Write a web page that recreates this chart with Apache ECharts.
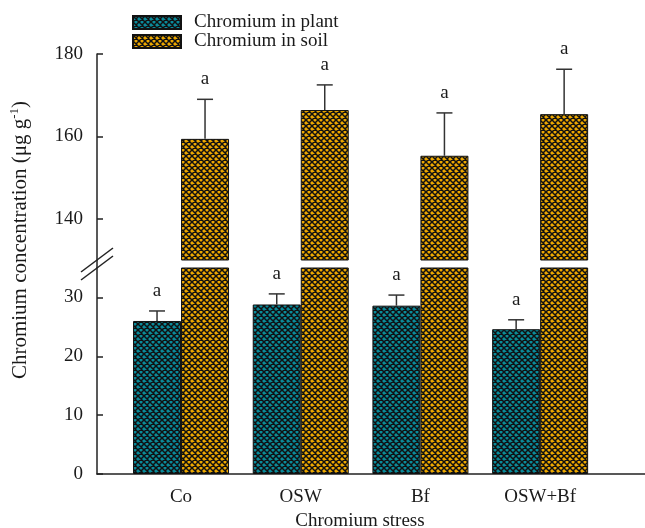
<!DOCTYPE html>
<html><head><meta charset="utf-8">
<script src="https://cdn.jsdelivr.net/npm/echarts@6/dist/echarts.min.js"></script>
<style>html,body{margin:0;padding:0;background:#fff}#c{width:645px;height:528px}</style>
</head><body><div id="c"></div>
<script>
const categories = ['Co', 'OSW', 'Bf', 'OSW+Bf'];
const plantMean = [26.0, 28.8, 28.6, 24.6];
const plantSD = [1.7, 1.8, 1.8, 1.6];
const soilMean = [159.4, 166.4, 155.3, 165.4];
const soilSD = [9.6, 6.1, 10.4, 10.9];
const sigPlant = ['a', 'a', 'a', 'a'];
const sigSoil = ['a', 'a', 'a', 'a'];
const upperTicks = [140, 160, 180];
const lowerTicks = [0, 10, 20, 30];
const seriesNames = ['Chromium in plant', 'Chromium in soil'];

const FONT = '"Times New Roman", "Liberation Serif", serif';
const TXT = '#1a1a1a';
const AX = '#222';
const X_MIN = -0.702, X_MAX = 3.876;
const BAR_W = 48;

function makePattern(base) {
  const s = 6;
  const c = document.createElement('canvas');
  c.width = s; c.height = s;
  const g = c.getContext('2d');
  g.fillStyle = base; g.fillRect(0, 0, s, s);
  g.strokeStyle = '#111'; g.lineWidth = 1.5;
  g.beginPath();
  for (const dx of [-s, 0, s]) {
    g.moveTo(dx, 0); g.lineTo(dx + s, s);
    g.moveTo(dx + s, 0); g.lineTo(dx, s);
  }
  g.stroke();
  return c;
}
const plantFill = { image: makePattern('#0a8b9b'), repeat: 'repeat' };
const soilFill = { image: makePattern('#eda800'), repeat: 'repeat' };

function errSeries(xi, yi, mean, sd, sig, dx) {
  return {
    type: 'custom', xAxisIndex: xi, yAxisIndex: yi, silent: true, z: 5,
    data: mean.map((v, i) => [i, v, sd[i]]),
    renderItem(params, api) {
      const x = api.value(0), v = api.value(1), s = api.value(2);
      const p0 = api.coord([x, v]), p1 = api.coord([x, v + s]);
      const cx = p0[0] + dx;
      return { type: 'group', children: [
        { type: 'line', shape: { x1: cx, y1: p0[1], x2: cx, y2: p1[1] }, style: { stroke: '#333', lineWidth: 1.5 } },
        { type: 'line', shape: { x1: cx - 8, y1: p1[1], x2: cx + 8, y2: p1[1] }, style: { stroke: '#333', lineWidth: 1.5 } },
        { type: 'text', style: { text: sig[params.dataIndex], x: cx, y: p1[1] - 20, align: 'center', verticalAlign: 'middle', fontFamily: FONT, fontSize: 19, fill: TXT } }
      ] };
    }
  };
}

const yCommon = {
  type: 'value',
  axisLine: { show: true, onZero: false, lineStyle: { color: AX, width: 1.5 } },
  splitLine: { show: false },
  axisLabel: { fontFamily: FONT, fontSize: 19, color: TXT, margin: 14 }
};

const chart = echarts.init(document.getElementById('c'), null, { renderer: 'canvas' });
chart.setOption({
  animation: false,
  backgroundColor: '#fff',
  grid: [
    { left: 97, right: 0, top: 54, height: 206, outerBoundsMode: 'none', containLabel: false },
    { left: 97, right: 0, top: 268, height: 206, outerBoundsMode: 'none', containLabel: false }
  ],
  legend: {
    data: seriesNames, orient: 'vertical', left: 132, top: 13, padding: 0,
    itemWidth: 48, itemHeight: 13, itemGap: 0, icon: 'rect',
    textStyle: { fontFamily: FONT, fontSize: 19, color: TXT, lineHeight: 16, padding: [0, 0, 0, 8] }
  },
  xAxis: [
    { gridIndex: 0, type: 'value', min: X_MIN, max: X_MAX, show: false },
    {
      gridIndex: 1, type: 'value', min: X_MIN, max: X_MAX,
      axisLine: { show: true, onZero: false, lineStyle: { color: AX, width: 1.5 } },
      axisTick: { show: false }, splitLine: { show: false },
      axisLabel: { customValues: [0, 1, 2, 3], formatter: v => categories[Math.round(v)], fontFamily: FONT, fontSize: 19, color: TXT, margin: 14 },
      name: 'Chromium stress', nameLocation: 'middle', nameGap: 38,
      nameTextStyle: { fontFamily: FONT, fontSize: 19, color: TXT, padding: [0, 22, 0, 0] }
    }
  ],
  yAxis: [
    Object.assign({}, yCommon, { gridIndex: 0, min: 130, max: 180,
      axisTick: { show: true, inside: true, length: 6, customValues: upperTicks, lineStyle: { color: AX, width: 1.5 } },
      axisLabel: Object.assign({}, yCommon.axisLabel, { customValues: upperTicks }) }),
    Object.assign({}, yCommon, { gridIndex: 1, min: 0, max: 35,
      axisTick: { show: true, inside: true, length: 6, customValues: lowerTicks, lineStyle: { color: AX, width: 1.5 } },
      axisLabel: Object.assign({}, yCommon.axisLabel, { customValues: lowerTicks }) })
  ],
  series: [
    { name: seriesNames[0], type: 'bar', xAxisIndex: 1, yAxisIndex: 1, barWidth: BAR_W, barGap: '0%',
      data: plantMean.map((v, i) => [i, v]), itemStyle: { color: plantFill, borderColor: '#111', borderWidth: 1 } },
    { name: seriesNames[1], type: 'bar', xAxisIndex: 1, yAxisIndex: 1, barWidth: BAR_W, barGap: '0%', clip: true,
      data: soilMean.map((v, i) => [i, v]), itemStyle: { color: soilFill, borderColor: '#111', borderWidth: 1 } },
    { name: seriesNames[0], type: 'bar', xAxisIndex: 0, yAxisIndex: 0, barWidth: BAR_W, barGap: '0%',
      data: plantMean.map((v, i) => [i, '-']), itemStyle: { color: plantFill, borderColor: '#111', borderWidth: 1 } },
    { name: seriesNames[1], type: 'bar', xAxisIndex: 0, yAxisIndex: 0, barWidth: BAR_W, barGap: '0%', clip: true,
      data: soilMean.map((v, i) => [i, v]), itemStyle: { color: soilFill, borderColor: '#111', borderWidth: 1 } },
    errSeries(1, 1, plantMean, plantSD, sigPlant, -BAR_W / 2),
    errSeries(0, 0, soilMean, soilSD, sigSoil, BAR_W / 2)
  ]
});

const pTop = chart.convertToPixel({ gridIndex: 0 }, [X_MIN, 130]);
const pBot = chart.convertToPixel({ gridIndex: 1 }, [X_MIN, 35]);
const brk = (p) => ({ type: 'line', shape: { x1: p[0] - 16, y1: p[1] + 12, x2: p[0] + 16, y2: p[1] - 12 }, style: { stroke: AX, lineWidth: 1.5 } });
chart.setOption({
  graphic: [
    { type: 'line', shape: { x1: pTop[0], y1: pTop[1], x2: pBot[0], y2: pBot[1] }, style: { stroke: AX, lineWidth: 1.5 } },
    brk(pTop), brk(pBot),
    { type: 'text', x: 20, y: 240, rotation: Math.PI / 2,
      style: { text: '{a|Chromium concentration (μg g}{s|-1}{a|)}', align: 'center', verticalAlign: 'middle', fill: TXT,
        rich: { a: { fontFamily: FONT, fontSize: 21, fill: TXT, lineHeight: 23 }, s: { fontFamily: FONT, fontSize: 13, fill: TXT, verticalAlign: 'top', lineHeight: 23 } } } }
  ]
});
</script></body></html>
